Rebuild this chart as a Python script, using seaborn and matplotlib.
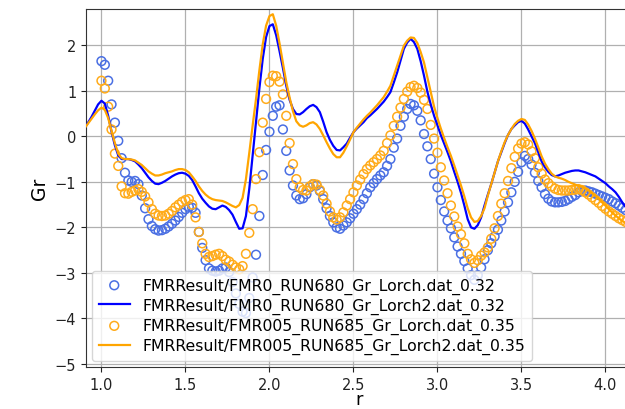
import numpy as np
import pandas as pd
import matplotlib
matplotlib.use("Agg")
import matplotlib.pyplot as plt
import seaborn as sns

# ---- measured points (open circles), r step 0.02 from 1.00 to 4.12 ----
r_pts = np.round(np.arange(1.00, 4.1201, 0.02), 2)

gr_fmr0_lorch = [
    1.65, 1.57, 1.22, 0.70, 0.30, -0.10, -0.48, -0.80, -0.97, -1.00,   # 1.00-1.18
    -0.98, -1.05, -1.30, -1.58, -1.82, -1.97, -2.04, -2.07, -2.06, -2.03,  # 1.20-1.38
    -1.98, -1.92, -1.85, -1.77, -1.68, -1.60, -1.55, -1.57, -1.68, -2.10,  # 1.40-1.58
    -2.45, -2.72, -2.90, -2.95, -2.97, -2.95, -2.90, -2.88, -2.98, -3.20,  # 1.60-1.78
    -3.45, -3.68, -3.85, -3.88, -3.55, -3.10, -2.60, -1.75, -0.85, -0.30,  # 1.80-1.98
    0.10, 0.45, 0.65, 0.68, 0.15, -0.32, -0.75, -1.08, -1.30, -1.38,      # 2.00-2.18
    -1.36, -1.27, -1.12, -1.05, -1.08, -1.20, -1.38, -1.58, -1.75, -1.89,  # 2.20-2.38
    -2.00, -2.03, -1.96, -1.89, -1.80, -1.70, -1.60, -1.50, -1.38, -1.25,  # 2.40-2.58
    -1.12, -1.03, -0.94, -0.86, -0.79, -0.65, -0.50, -0.25, -0.05, 0.23,   # 2.60-2.78
    0.43, 0.60, 0.71, 0.68, 0.56, 0.35, 0.05, -0.22, -0.50, -0.82,        # 2.80-2.98
    -1.12, -1.40, -1.65, -1.85, -2.02, -2.22, -2.42, -2.58, -2.74, -2.90,  # 3.00-3.18
    -3.05, -3.15, -3.05, -2.88, -2.70, -2.50, -2.35, -2.20, -2.05, -1.85,  # 3.20-3.38
    -1.65, -1.45, -1.23, -1.00, -0.78, -0.57, -0.43, -0.50, -0.62, -0.80,  # 3.40-3.58
    -0.98, -1.12, -1.27, -1.37, -1.43, -1.45, -1.45, -1.44, -1.42, -1.38,  # 3.60-3.78
    -1.33, -1.29, -1.23, -1.20, -1.19, -1.21, -1.23, -1.26, -1.29, -1.32,  # 3.80-3.98
    -1.35, -1.38, -1.43, -1.47, -1.52, -1.57, -1.62,                      # 4.00-4.12
]

gr_fmr005_lorch = [
    1.22, 1.05, 0.65, 0.15, -0.38, -0.65, -1.10, -1.25, -1.26, -1.22,    # 1.00-1.18
    -1.19, -1.16, -1.22, -1.32, -1.45, -1.60, -1.70, -1.74, -1.75, -1.74,  # 1.20-1.38
    -1.70, -1.64, -1.56, -1.50, -1.44, -1.40, -1.38, -1.50, -1.78, -2.10,  # 1.40-1.58
    -2.35, -2.58, -2.65, -2.63, -2.60, -2.58, -2.63, -2.71, -2.75, -2.82,  # 1.60-1.78
    -2.88, -2.92, -2.85, -2.58, -2.12, -1.60, -0.94, -0.35, 0.30, 0.82,   # 1.80-1.98
    1.19, 1.33, 1.32, 1.20, 0.92, 0.45, -0.15, -0.61, -0.94, -1.12,       # 2.00-2.18
    -1.18, -1.19, -1.10, -1.05, -1.06, -1.18, -1.30, -1.48, -1.65, -1.78,  # 2.20-2.38
    -1.83, -1.78, -1.67, -1.52, -1.38, -1.23, -1.08, -0.95, -0.83, -0.72,  # 2.40-2.58
    -0.64, -0.57, -0.50, -0.42, -0.32, -0.15, 0.02, 0.23, 0.43, 0.63,     # 2.60-2.78
    0.82, 0.98, 1.08, 1.11, 1.06, 0.96, 0.80, 0.60, 0.25, -0.05,          # 2.80-2.98
    -0.36, -0.68, -0.97, -1.25, -1.52, -1.76, -1.98, -2.15, -2.35, -2.58,  # 3.00-3.18
    -2.70, -2.78, -2.72, -2.62, -2.55, -2.44, -2.25, -2.02, -1.75, -1.48,  # 3.20-3.38
    -1.25, -0.98, -0.70, -0.45, -0.27, -0.16, -0.13, -0.18, -0.33, -0.48,  # 3.40-3.58
    -0.68, -0.82, -0.95, -1.03, -1.10, -1.15, -1.18, -1.19, -1.19, -1.19,  # 3.60-3.78
    -1.18, -1.17, -1.16, -1.18, -1.23, -1.28, -1.34, -1.40, -1.46, -1.53,  # 3.80-3.98
    -1.59, -1.65, -1.70, -1.75, -1.80, -1.84, -1.88,                      # 4.00-4.12
]

# ---- smoothed curves (solid lines), r step 0.02 from 0.90 to 4.14 ----
r_line = np.round(np.arange(0.90, 4.1401, 0.02), 2)

gr_fmr0_lorch2 = [
    0.18, 0.30, 0.42, 0.56, 0.70, 0.78, 0.72, 0.45, 0.10, -0.20,          # 0.90-1.08
    -0.42, -0.50, -0.50, -0.50, -0.52, -0.55, -0.62, -0.70, -0.80, -0.90,  # 1.10-1.28
    -0.98, -1.04, -1.05, -1.02, -0.98, -0.93, -0.88, -0.84, -0.81, -0.80,  # 1.30-1.48
    -0.82, -0.87, -0.96, -1.10, -1.25, -1.37, -1.46, -1.54, -1.59, -1.60,  # 1.50-1.68
    -1.56, -1.52, -1.55, -1.62, -1.72, -1.88, -2.03, -2.02, -1.75, -1.15,  # 1.70-1.88
    -0.42, 0.30, 1.05, 1.70, 2.18, 2.42, 2.46, 2.22, 1.87, 1.50,          # 1.90-2.08
    1.11, 0.80, 0.60, 0.49, 0.48, 0.53, 0.60, 0.66, 0.69, 0.64,           # 2.10-2.28
    0.53, 0.32, 0.09, -0.08, -0.21, -0.30, -0.31, -0.24, -0.16, -0.03,    # 2.30-2.48
    0.09, 0.17, 0.24, 0.31, 0.40, 0.46, 0.53, 0.60, 0.68, 0.76,           # 2.50-2.68
    0.86, 0.97, 1.18, 1.40, 1.66, 1.92, 2.06, 2.14, 2.07, 1.92,           # 2.70-2.88
    1.65, 1.33, 0.98, 0.70, 0.45, 0.24, 0.03, -0.16, -0.35, -0.55,        # 2.90-3.08
    -0.78, -1.00, -1.24, -1.52, -1.82, -2.00, -2.03, -1.95, -1.78, -1.52,  # 3.10-3.28
    -1.28, -1.05, -0.80, -0.55, -0.35, -0.15, 0.03, 0.16, 0.24, 0.31,     # 3.30-3.48
    0.34, 0.28, 0.15, 0.00, -0.15, -0.35, -0.55, -0.68, -0.78, -0.85,     # 3.50-3.68
    -0.88, -0.86, -0.83, -0.80, -0.78, -0.76, -0.75, -0.75, -0.77, -0.79,  # 3.70-3.88
    -0.82, -0.85, -0.88, -0.93, -0.98, -1.03, -1.10, -1.16, -1.23, -1.33,  # 3.90-4.08
    -1.45, -1.55, -1.65,                                                  # 4.10-4.14
]

gr_fmr005_lorch2 = [
    0.18, 0.28, 0.38, 0.48, 0.57, 0.63, 0.58, 0.40, 0.12, -0.15,          # 0.90-1.08
    -0.38, -0.48, -0.50, -0.50, -0.51, -0.53, -0.58, -0.63, -0.70, -0.77,  # 1.10-1.28
    -0.82, -0.86, -0.86, -0.84, -0.81, -0.79, -0.77, -0.74, -0.72, -0.72,  # 1.30-1.48
    -0.74, -0.79, -0.88, -0.98, -1.10, -1.20, -1.28, -1.34, -1.38, -1.40,  # 1.50-1.68
    -1.41, -1.42, -1.45, -1.49, -1.53, -1.56, -1.51, -1.35, -0.94, -0.36,  # 1.70-1.88
    0.24, 0.82, 1.45, 2.02, 2.43, 2.64, 2.68, 2.43, 2.04, 1.62,           # 1.90-2.08
    1.19, 0.85, 0.55, 0.33, 0.24, 0.21, 0.24, 0.29, 0.31, 0.26,           # 2.10-2.28
    0.16, 0.02, -0.13, -0.27, -0.39, -0.46, -0.46, -0.36, -0.22, -0.07,   # 2.30-2.48
    0.09, 0.19, 0.28, 0.37, 0.45, 0.52, 0.60, 0.68, 0.77, 0.86,           # 2.50-2.68
    0.98, 1.11, 1.33, 1.55, 1.77, 1.99, 2.10, 2.17, 2.16, 2.05,           # 2.70-2.88
    1.85, 1.62, 1.30, 0.98, 0.65, 0.40, 0.17, -0.04, -0.24, -0.43,        # 2.90-3.08
    -0.64, -0.86, -1.08, -1.32, -1.58, -1.78, -1.88, -1.86, -1.75, -1.58,  # 3.10-3.28
    -1.30, -1.05, -0.80, -0.55, -0.33, -0.13, 0.03, 0.16, 0.27, 0.34,     # 3.30-3.48
    0.38, 0.36, 0.26, 0.12, -0.05, -0.24, -0.44, -0.60, -0.72, -0.82,     # 3.50-3.68
    -0.88, -0.91, -0.93, -0.96, -1.00, -1.03, -1.06, -1.09, -1.11, -1.15,  # 3.70-3.88
    -1.19, -1.25, -1.30, -1.37, -1.45, -1.52, -1.60, -1.67, -1.74, -1.80,  # 3.90-4.08
    -1.86, -1.90, -1.95,                                                  # 4.10-4.14
]

labels = [
    "FMRResult/FMR0_RUN680_Gr_Lorch.dat_0.32",
    "FMRResult/FMR0_RUN680_Gr_Lorch2.dat_0.32",
    "FMRResult/FMR005_RUN685_Gr_Lorch.dat_0.35",
    "FMRResult/FMR005_RUN685_Gr_Lorch2.dat_0.35",
]

pts0 = pd.DataFrame({"r": r_pts, "Gr": gr_fmr0_lorch})
pts5 = pd.DataFrame({"r": r_pts, "Gr": gr_fmr005_lorch})
lin0 = pd.DataFrame({"r": r_line, "Gr": gr_fmr0_lorch2})
lin5 = pd.DataFrame({"r": r_line, "Gr": gr_fmr005_lorch2})

fig = plt.figure(figsize=(6.25, 4.10), dpi=100)
ax = fig.add_axes([86 / 625, 42 / 410, 546 / 625, 358 / 410])

c_pts0 = "#4a6fe3"
c_pts5 = "#ffab1a"

sns.scatterplot(data=pts0, x="r", y="Gr", ax=ax, marker="o", s=40,
                color=c_pts0, facecolor="none", edgecolor=c_pts0,
                linewidth=1.1, label=labels[0], zorder=3)
sns.lineplot(data=lin0, x="r", y="Gr", ax=ax, color="#0000ff",
             linewidth=1.6, label=labels[1], zorder=4)
sns.scatterplot(data=pts5, x="r", y="Gr", ax=ax, marker="o", s=40,
                color=c_pts5, facecolor="none", edgecolor=c_pts5,
                linewidth=1.1, label=labels[2], zorder=3)
sns.lineplot(data=lin5, x="r", y="Gr", ax=ax, color="#ffa500",
             linewidth=1.6, label=labels[3], zorder=4)

ax.set_xlim(0.908, 4.158)
ax.set_ylim(-5.065, 2.795)
ax.set_xticks([1.0, 1.5, 2.0, 2.5, 3.0, 3.5, 4.0])
ax.set_yticks([-5, -4, -3, -2, -1, 0, 1, 2])
ax.grid(True, color="#b0b0b0", linewidth=0.9)
ax.set_axisbelow(True)
ax.tick_params(labelsize=10.5, colors="#222222")
for s in ax.spines.values():
    s.set_color("#333333")
ax.set_xlabel("r", fontsize=13, labelpad=-1)
ax.set_ylabel("Gr", fontsize=13.5)

ax.legend(loc="lower left", fontsize=11.3, framealpha=0.8,
          labelspacing=0.26, borderaxespad=0.4)

fig.savefig("out.png", dpi=100)
